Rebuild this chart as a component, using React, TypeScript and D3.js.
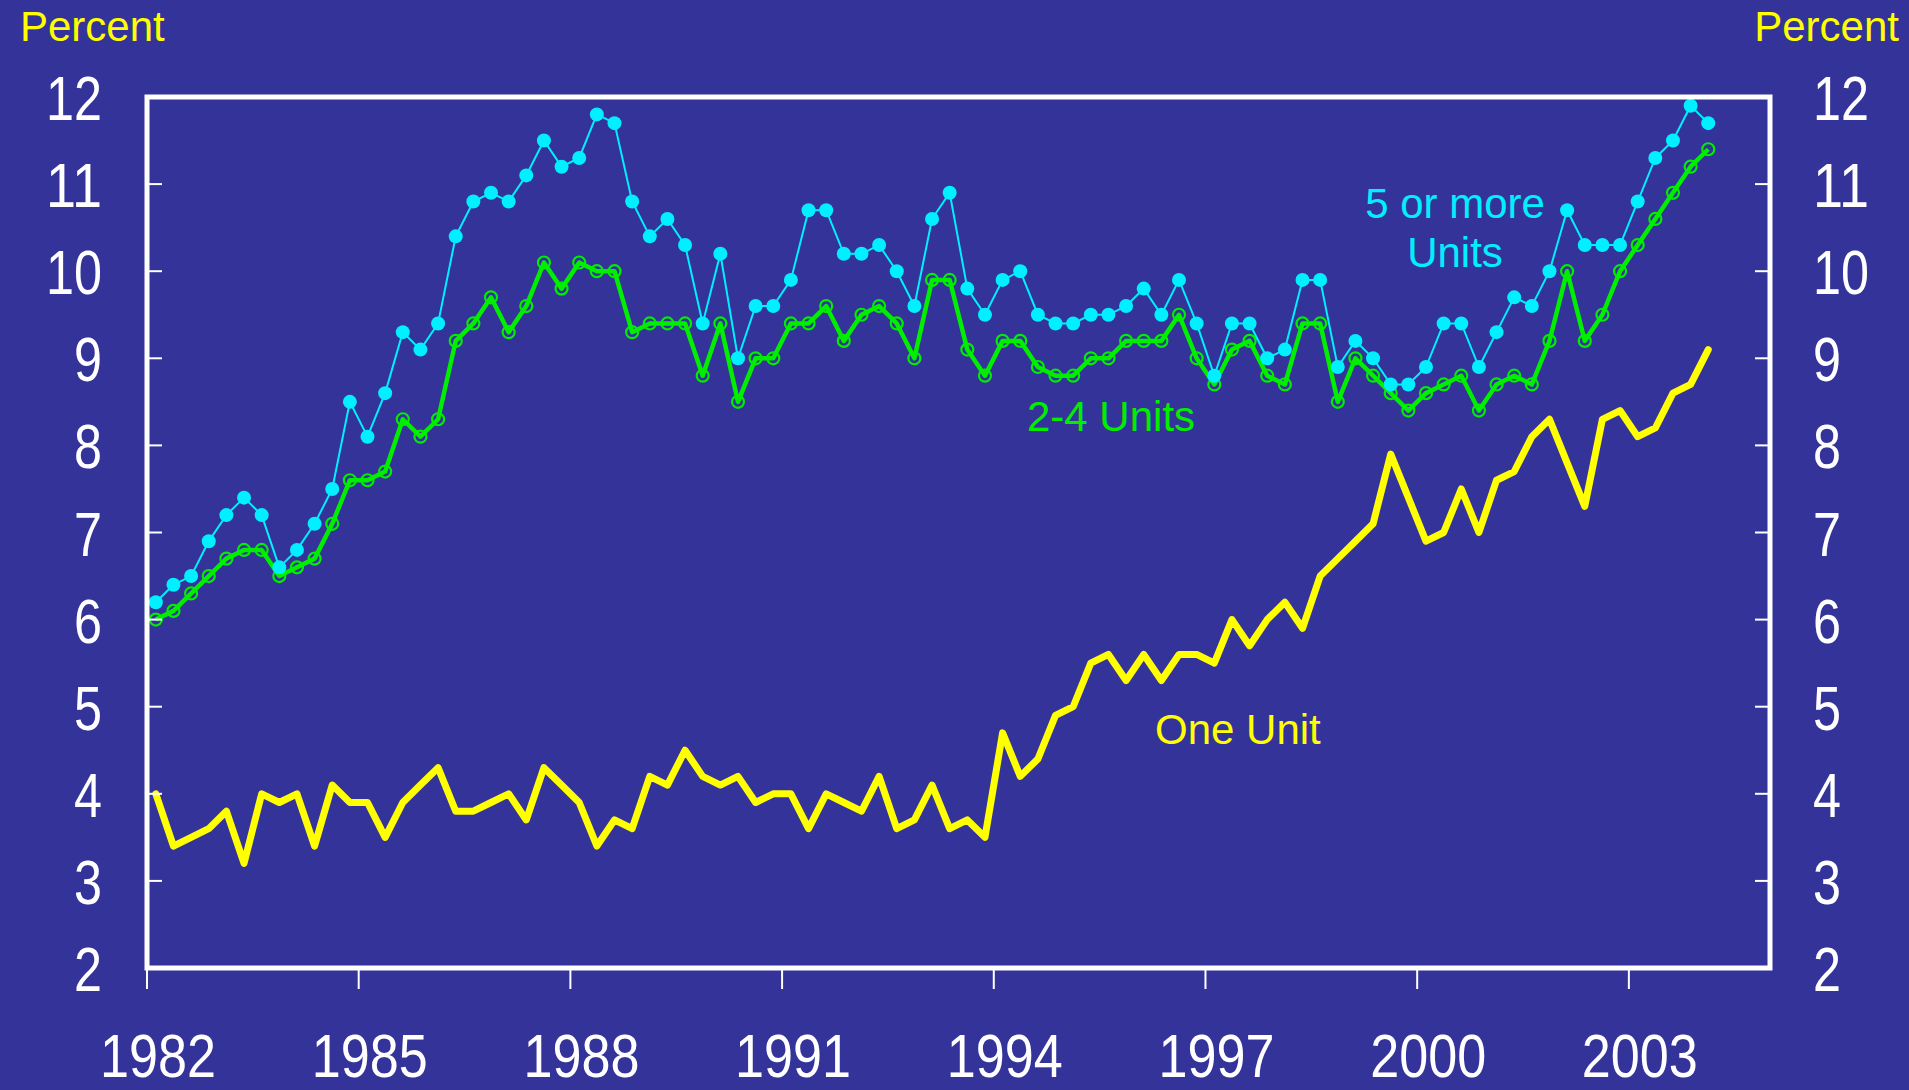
import React from "react";
import * as d3 from "d3";

// quarterly rates, 1982Q1 .. 2004Q1
const oneUnit = [
  4.0, 3.4, 3.5, 3.6, 3.8, 3.2, 4.0, 3.9, 4.0, 3.4, 4.1, 3.9, 3.9, 3.5, 3.9, 4.1, 4.3,
  3.8, 3.8, 3.9, 4.0, 3.7, 4.3, 4.1, 3.9, 3.4, 3.7, 3.6, 4.2, 4.1, 4.5, 4.2, 4.1,
  4.2, 3.9, 4.0, 4.0, 3.6, 4.0, 3.9, 3.8, 4.2, 3.6, 3.7, 4.1, 3.6, 3.7, 3.5, 4.7, 4.2,
  4.4, 4.9, 5.0, 5.5, 5.6, 5.3, 5.6, 5.3, 5.6, 5.6, 5.5, 6.0, 5.7, 6.0, 6.2, 5.9,
  6.5, 6.7, 6.9, 7.1, 7.9, 7.4, 6.9, 7.0, 7.5, 7.0, 7.6, 7.7, 8.1, 8.3, 7.8, 7.3, 8.3,
  8.4, 8.1, 8.2, 8.6, 8.7, 9.1,
];

const twoToFour = [
  6.0, 6.1, 6.3, 6.5, 6.7, 6.8, 6.8, 6.5, 6.6, 6.7, 7.1, 7.6, 7.6, 7.7, 8.3, 8.1, 8.3,
  9.2, 9.4, 9.7, 9.3, 9.6, 10.1, 9.8, 10.1, 10.0, 10.0, 9.3, 9.4, 9.4, 9.4, 8.8, 9.4,
  8.5, 9.0, 9.0, 9.4, 9.4, 9.6, 9.2, 9.5, 9.6, 9.4, 9.0, 9.9, 9.9, 9.1, 8.8, 9.2, 9.2,
  8.9, 8.8, 8.8, 9.0, 9.0, 9.2, 9.2, 9.2, 9.5, 9.0, 8.7, 9.1, 9.2, 8.8, 8.7, 9.4,
  9.4, 8.5, 9.0, 8.8, 8.6, 8.4, 8.6, 8.7, 8.8, 8.4, 8.7, 8.8, 8.7, 9.2, 10.0, 9.2, 9.5,
  10.0, 10.3, 10.6, 10.9, 11.2, 11.4,
];

const fivePlus = [
  6.2, 6.4, 6.5, 6.9, 7.2, 7.4, 7.2, 6.6, 6.8, 7.1, 7.5, 8.5, 8.1, 8.6, 9.3, 9.1, 9.4,
  10.4, 10.8, 10.9, 10.8, 11.1, 11.5, 11.2, 11.3, 11.8, 11.7, 10.8, 10.4, 10.6, 10.3, 9.4, 10.2,
  9.0, 9.6, 9.6, 9.9, 10.7, 10.7, 10.2, 10.2, 10.3, 10.0, 9.6, 10.6, 10.9, 9.8, 9.5, 9.9, 10.0,
  9.5, 9.4, 9.4, 9.5, 9.5, 9.6, 9.8, 9.5, 9.9, 9.4, 8.8, 9.4, 9.4, 9.0, 9.1, 9.9,
  9.9, 8.9, 9.2, 9.0, 8.7, 8.7, 8.9, 9.4, 9.4, 8.9, 9.3, 9.7, 9.6, 10.0, 10.7, 10.3, 10.3,
  10.3, 10.8, 11.3, 11.5, 11.9, 11.7,
];

const yearTicks = [1982, 1985, 1988, 1991, 1994, 1997, 2000, 2003];
const valueTicks = [2, 3, 4, 5, 6, 7, 8, 9, 10, 11, 12];

// mid-quarter positions
const quarters = oneUnit.map((_, i) => 1982 + Math.floor(i / 4) + (i % 4) / 4 + 0.125);

const width = 1909;
const height = 1090;
const bg = "#333399";
const cyan = "#00f0ff";
const green = "#00ee00";
const yellow = "#ffff00";
const narrow = "'Liberation Sans Narrow', 'Liberation Sans', Arial, sans-serif";
const sans = "'Liberation Sans', Arial, sans-serif";

export default function App() {
  const left = 147;
  const right = 1770;
  const top = 97;
  const bottom = 968;

  const xScale = d3.scaleLinear().domain([1982, 2005]).range([left, right]);
  const yScale = d3.scaleLinear().domain([2, 12]).range([bottom, top]);

  const line = d3
    .line<number>()
    .x((_, i) => xScale(quarters[i]))
    .y((d) => yScale(d));

  const yLabels = valueTicks.map((v) => (
    <g key={v}>
      <text
        x={102}
        y={yScale(v) + 23}
        textAnchor="end"
        fontSize={63}
        fontFamily={narrow}
        fill="#fff"
        textLength={String(v).length * 28}
        lengthAdjust="spacingAndGlyphs"
      >
        {v}
      </text>
      <text
        x={1813}
        y={yScale(v) + 23}
        textAnchor="start"
        fontSize={63}
        fontFamily={narrow}
        fill="#fff"
        textLength={String(v).length * 28}
        lengthAdjust="spacingAndGlyphs"
      >
        {v}
      </text>
    </g>
  ));

  const yTicks = valueTicks.slice(1, -1).map((v) => (
    <g key={v}>
      <line x1={left} x2={left + 15} y1={yScale(v)} y2={yScale(v)} stroke="#fff" strokeWidth={2} />
      <line x1={right - 15} x2={right} y1={yScale(v)} y2={yScale(v)} stroke="#fff" strokeWidth={2} />
    </g>
  ));

  const xTicks = yearTicks.map((yr) => (
    <g key={yr}>
      <line x1={xScale(yr)} x2={xScale(yr)} y1={bottom} y2={bottom + 21} stroke="#fff" strokeWidth={2} />
      <text
        x={xScale(yr) + 11}
        y={1077}
        textAnchor="middle"
        fontSize={61}
        fontFamily={narrow}
        fill="#fff"
        textLength={116}
        lengthAdjust="spacingAndGlyphs"
      >
        {yr}
      </text>
    </g>
  ));

  return (
    <svg
      width={width}
      height={height}
      viewBox={`0 0 ${width} ${height}`}
      style={{ position: "absolute", left: 0, top: 0, display: "block" }}
    >
      <rect x={0} y={0} width={width} height={height} fill={bg} />

      <text x={20} y={41} fontSize={42} fontFamily={sans} fill={yellow}>
        Percent
      </text>
      <text x={1899} y={41} fontSize={42} fontFamily={sans} fill={yellow} textAnchor="end">
        Percent
      </text>

      {yLabels}
      {xTicks}

      <path
        d={line(oneUnit) || ""}
        fill="none"
        stroke={yellow}
        strokeWidth={7}
        strokeLinejoin="round"
        strokeLinecap="round"
      />

      <path d={line(twoToFour) || ""} fill="none" stroke={green} strokeWidth={4.5} strokeLinejoin="round" />
      {twoToFour.map((d, i) => (
        <circle
          key={"g" + i}
          cx={xScale(quarters[i])}
          cy={yScale(d)}
          r={6}
          fill="none"
          stroke={green}
          strokeWidth={2.2}
        />
      ))}

      <path d={line(fivePlus) || ""} fill="none" stroke={cyan} strokeWidth={2} />
      {fivePlus.map((d, i) => (
        <circle key={"c" + i} cx={xScale(quarters[i])} cy={yScale(d)} r={7} fill={cyan} />
      ))}

      <rect
        x={left}
        y={top}
        width={right - left}
        height={bottom - top}
        fill="none"
        stroke="#fff"
        strokeWidth={5}
      />
      {yTicks}

      <text x={1455} y={218} fontSize={42} fontFamily={sans} fill={cyan} textAnchor="middle">
        5 or more
      </text>
      <text x={1455} y={267} fontSize={42} fontFamily={sans} fill={cyan} textAnchor="middle">
        Units
      </text>
      <text x={1027} y={431} fontSize={42} fontFamily={sans} fill={green}>
        2-4 Units
      </text>
      <text x={1155} y={744} fontSize={42} fontFamily={sans} fill={yellow}>
        One Unit
      </text>
    </svg>
  );
}
